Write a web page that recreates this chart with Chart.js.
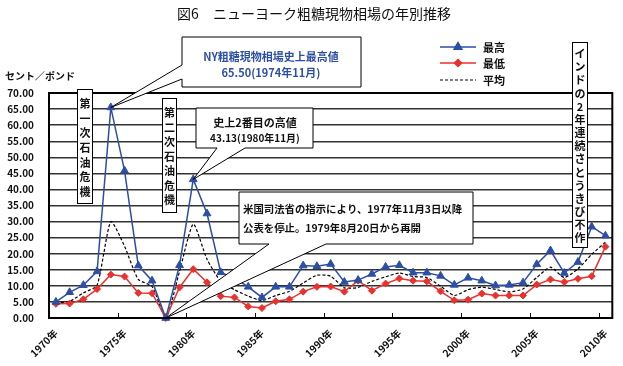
<!DOCTYPE html>
<html>
<head>
<meta charset="utf-8">
<script src="https://cdn.jsdelivr.net/npm/chart.js@4.4.1/dist/chart.umd.min.js"></script>
<style>
  html, body { margin: 0; padding: 0; background: #fff; }
  #wrap { width: 623px; height: 366px; position: relative; }
</style>
</head>
<body>
<div id="wrap"><canvas id="sugarChart"></canvas></div>
<script>
// NY raw sugar spot price, yearly (cents / pound)
const years = [];
for (let y = 1970; y <= 2010; y++) years.push(String(y));

const highValues = [
  5.0, 8.0, 10.2, 14.5, 65.5, 45.8, 16.3, 11.6, 0, 16.4,
  43.13, 32.5, 14.2, 12.4, 9.7, 6.4, 9.7, 9.7, 16.3, 16.1,
  16.8, 11.2, 11.8, 13.7, 15.9, 16.4, 14.1, 14.1, 13.1, 10.3,
  12.5, 11.6, 10.1, 10.3, 11.0, 16.7, 21.0, 14.0, 17.4, 28.4,
  25.6
];
const lowValues = [
  4.4, 4.5, 5.8, 9.0, 13.5, 12.9, 7.8, 7.7, 0, 9.5,
  15.2, 11.1, 6.8, 6.4, 3.6, 3.1, 5.2, 5.8, 8.2, 9.7,
  9.8, 8.2, 11.6, 8.5, 10.7, 12.3, 11.6, 11.4, 8.3, 5.5,
  5.7, 7.6, 7.0, 7.0, 7.0, 10.4, 12.0, 11.2, 12.2, 13.0,
  22.2
];
const avgValues = [
  4.7, 5.2, 7.8, 10.2, 30.0, 22.3, 12.0, 9.8, 0, 14.5,
  29.2, 18.3, 11.4, 8.8, 6.8, 5.4, 7.0, 8.3, 10.9, 13.3,
  13.0, 9.4, 9.5, 11.4, 12.8, 14.0, 12.9, 12.6, 9.9, 7.0,
  8.8, 9.6, 8.9, 8.1, 9.0, 12.6, 15.8, 12.6, 15.3, 19.8,
  23.6
];
const yTicks = { min: 0, max: 70, step: 5 };

const BLUE = '#2c4ea4';
const RED = '#e8322e';
const FONT = '"Noto Sans CJK JP", "Noto Sans", sans-serif';

function callout(ctx, pts) {
  ctx.beginPath();
  pts.forEach((p, i) => i ? ctx.lineTo(p[0], p[1]) : ctx.moveTo(p[0], p[1]));
  ctx.closePath();
  ctx.fillStyle = '#fff';
  ctx.fill();
  ctx.strokeStyle = '#000';
  ctx.lineWidth = 1;
  ctx.stroke();
}

function verticalBox(ctx, x0, y0, x1, y1, text, yStart, step) {
  ctx.fillStyle = '#fff';
  ctx.fillRect(x0, y0, x1 - x0, y1 - y0);
  ctx.strokeStyle = '#000';
  ctx.lineWidth = 1;
  ctx.strokeRect(x0 + 0.5, y0 + 0.5, x1 - x0, y1 - y0);
  ctx.fillStyle = '#111';
  ctx.font = 'bold 11px ' + FONT;
  ctx.textAlign = 'center';
  ctx.textBaseline = 'middle';
  Array.from(text).forEach((ch, i) => ctx.fillText(ch, (x0 + x1) / 2 + 0.5, yStart + i * step));
}

const decorations = {
  id: 'decorations',
  afterDatasetsDraw(chart) {
    const ctx = chart.ctx;
    const area = chart.chartArea;
    const xs = chart.scales.x;
    const ys = chart.scales.y;
    const half = (xs.getPixelForValue(1) - xs.getPixelForValue(0)) / 2;
    ctx.save();

    // plot frame
    ctx.strokeStyle = '#000';
    ctx.lineWidth = 2;
    ctx.strokeRect(area.left, area.top, area.right - area.left, area.bottom - area.top);

    // inner tick marks every 5 years
    ctx.lineWidth = 1;
    for (let i = 5; i < years.length; i += 5) {
      const x = Math.round(xs.getPixelForValue(i) - half) + 0.5;
      ctx.beginPath();
      ctx.moveTo(x, area.bottom);
      ctx.lineTo(x, area.bottom - 5);
      ctx.stroke();
    }

    // callouts
    const p74 = [xs.getPixelForValue(4), ys.getPixelForValue(highValues[4])];
    const p80 = [xs.getPixelForValue(10), ys.getPixelForValue(highValues[10])];
    const p78 = [xs.getPixelForValue(8), ys.getPixelForValue(highValues[8])];

    callout(ctx, [[182, 37], [361, 37], [361, 87], [182, 87], [182, 79], p74, [182, 65]]);
    callout(ctx, [[196, 108], [313, 108], [313, 148], [245, 148], p80, [217, 148], [196, 148]]);
    callout(ctx, [[239, 192], [473, 192], [473, 244], [326, 244], p78, [269, 244], [239, 244]]);

    ctx.textBaseline = 'middle';
    ctx.textAlign = 'center';
    ctx.fillStyle = BLUE;
    ctx.font = 'bold 11px ' + FONT;
    ctx.fillText('NY粗糖現物相場史上最高値', 271, 57);
    ctx.fillText('65.50(1974年11月)', 271, 73);

    ctx.fillStyle = '#111';
    ctx.fillText('史上2番目の高値', 255, 123);
    ctx.font = 'bold 10px ' + FONT;
    ctx.fillText('43.13(1980年11月)', 255, 138);

    ctx.textAlign = 'left';
    ctx.font = 'bold 10.4px ' + FONT;
    ctx.fillText('米国司法省の指示により、1977年11月3日以降', 243, 209);
    ctx.fillText('公表を停止。1979年8月20日から再開', 243, 228);

    // vertical annotation boxes
    verticalBox(ctx, 77, 89, 92, 203, '第一次石油危機', 104, 14.6);
    verticalBox(ctx, 162, 98, 176, 212, '第二次石油危機', 113, 14.5);
    verticalBox(ctx, 572, 42, 587, 247, 'インドの2年連続さとうきび不作', 54, 13.15);

    ctx.restore();
  },
  afterDraw(chart) {
    const ctx = chart.ctx;
    ctx.save();

    // title
    ctx.fillStyle = '#111';
    ctx.font = '14px ' + FONT;
    ctx.textAlign = 'center';
    ctx.textBaseline = 'middle';
    ctx.fillText('図6　ニューヨーク粗糖現物相場の年別推移', 314, 14);

    // unit
    ctx.font = 'bold 10px ' + FONT;
    ctx.textAlign = 'left';
    ctx.fillText('セント／ポンド', 5, 76);

    // legend
    const rows = [
      { ds: chart.data.datasets[0], y: 47 },
      { ds: chart.data.datasets[1], y: 63 },
      { ds: chart.data.datasets[2], y: 80 }
    ];
    rows.forEach(r => {
      ctx.strokeStyle = r.ds.borderColor;
      ctx.lineWidth = r.ds.borderWidth;
      ctx.setLineDash(r.ds.borderDash || []);
      ctx.beginPath();
      ctx.moveTo(440, r.y);
      ctx.lineTo(476, r.y);
      ctx.stroke();
      ctx.setLineDash([]);
      if (r.ds.pointRadius > 0) {
        Chart.helpers.drawPoint(ctx, {
          pointStyle: r.ds.pointStyle,
          radius: r.ds.pointRadius,
          borderWidth: 1
        }, 458, r.y);
        ctx.fillStyle = r.ds.backgroundColor;
        ctx.fill();
      }
      ctx.fillStyle = '#111';
      ctx.font = 'bold 11px ' + FONT;
      ctx.fillText(r.ds.label, 483, r.y + 1);
    });
    ctx.restore();
  }
};

new Chart(document.getElementById('sugarChart'), {
  type: 'line',
  data: {
    labels: years,
    datasets: [
      {
        label: '最高',
        data: highValues,
        borderColor: BLUE,
        backgroundColor: BLUE,
        borderWidth: 1.5,
        pointStyle: 'triangle',
        pointRadius: 4.5,
        pointBorderWidth: 1,
        clip: false
      },
      {
        label: '最低',
        data: lowValues,
        borderColor: RED,
        backgroundColor: RED,
        borderWidth: 1.5,
        pointStyle: 'rectRot',
        pointRadius: 3.5,
        pointBorderWidth: 1,
        clip: false
      },
      {
        label: '平均',
        data: avgValues,
        borderColor: '#000',
        backgroundColor: '#000',
        borderWidth: 1.2,
        borderDash: [3, 2],
        pointRadius: 0,
        tension: 0.2,
        clip: false
      }
    ]
  },
  options: {
    responsive: true,
    maintainAspectRatio: false,
    animation: false,
    events: [],
    layout: { padding: { top: 93, right: 6, left: 0, bottom: 0 } },
    plugins: {
      legend: { display: false },
      title: { display: false },
      tooltip: { enabled: false }
    },
    scales: {
      x: {
        offset: true,
        grid: { display: false, drawTicks: false },
        border: { display: false },
        afterFit: s => { s.height = 48; },
        ticks: {
          autoSkip: false,
          minRotation: 45,
          maxRotation: 45,
          padding: 9,
          color: '#111',
          font: { family: FONT, size: 10, weight: 'bold' },
          callback: (v, i) => (i % 5 === 0 ? years[i] + '年' : '')
        }
      },
      y: {
        min: yTicks.min,
        max: yTicks.max,
        afterFit: s => { s.width = 49; },
        grid: { color: '#333', lineWidth: 1.4, drawTicks: false },
        border: { display: false },
        ticks: {
          stepSize: yTicks.step,
          padding: 15,
          color: '#111',
          font: { family: FONT, size: 10, weight: 'bold' },
          callback: v => v.toFixed(2)
        }
      }
    }
  },
  plugins: [decorations]
});
</script>
</body>
</html>
